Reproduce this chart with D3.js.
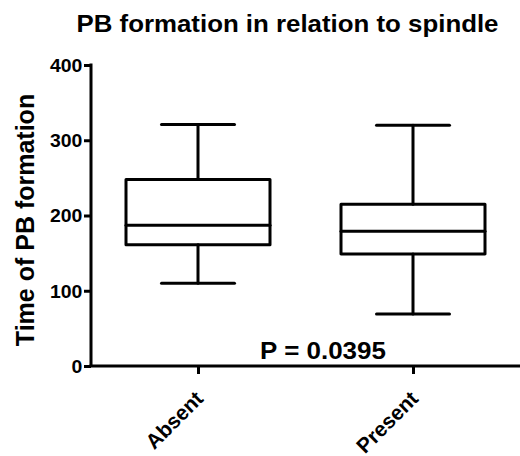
<!DOCTYPE html>
<html><head><meta charset="utf-8">
<script src="https://cdn.jsdelivr.net/npm/d3@7"></script>
<style>body{margin:0;background:#fff}svg{display:block}text{font-family:"Liberation Sans",Arial,sans-serif;font-weight:bold;fill:#000}</style>
</head><body><svg id="c" width="520" height="456"></svg>
<script>
const categories = ["Absent", "Present"];
const whiskerLow = [110, 69];
const q1 = [161, 149];
const median = [187, 179];
const q3 = [248, 215];
const whiskerHigh = [321, 320];
const yTicks = [0, 100, 200, 300, 400];
const titleText = "PB formation in relation to spindle";
const yLabel = "Time of PB formation";
const pText = "P = 0.0395";

const data = categories.map((c,i)=>({c, lo:whiskerLow[i], q1:q1[i], med:median[i], q3:q3[i], hi:whiskerHigh[i]}));
const svg = d3.select("#c");
const y = d3.scaleLinear().domain([0,400]).range([366,65]);
const x = d3.scalePoint().domain(categories).range([198,413]);

const yAxis = svg.append("g").attr("transform","translate(91,0)")
  .call(d3.axisLeft(y).tickValues(yTicks).tickSize(7).tickPadding(1).tickSizeOuter(0));
yAxis.select(".domain").attr("stroke","#000").attr("stroke-width",3).attr("d","M0,"+(y(400)-1.5)+"V"+(y(0)));
yAxis.selectAll(".tick line").attr("stroke","#000").attr("stroke-width",3);
yAxis.selectAll(".tick text").attr("font-size",18).attr("font-family","Liberation Sans, Arial").attr("font-weight","bold").attr("dy","0.36em")
  .attr("transform","scale(1.08,1)");

const xAxis = svg.append("g").attr("transform","translate(0,366)")
  .call(d3.axisBottom(x).tickSize(8).tickSizeOuter(0));
xAxis.select(".domain").attr("stroke","#000").attr("stroke-width",3).attr("d","M89.5,0H520");
xAxis.selectAll(".tick line").attr("stroke","#000").attr("stroke-width",3);
xAxis.selectAll(".tick text").attr("font-size",21).attr("font-family","Liberation Sans, Arial").attr("font-weight","bold")
  .attr("text-anchor","end").attr("y",0).attr("dy",0).attr("transform","translate(6,34) rotate(-45)");

const boxW = 144, capW = 73;
const g = svg.append("g").attr("fill","none").attr("stroke","#000").attr("stroke-width",3).attr("stroke-linecap","round");
data.forEach(d=>{
  const cx = x(d.c);
  g.append("line").attr("x1",cx).attr("x2",cx).attr("y1",y(d.hi)).attr("y2",y(d.q3));
  g.append("line").attr("x1",cx).attr("x2",cx).attr("y1",y(d.q1)).attr("y2",y(d.lo));
  g.append("line").attr("x1",cx-capW/2).attr("x2",cx+capW/2).attr("y1",y(d.hi)).attr("y2",y(d.hi));
  g.append("line").attr("x1",cx-capW/2).attr("x2",cx+capW/2).attr("y1",y(d.lo)).attr("y2",y(d.lo));
  g.append("rect").attr("x",cx-boxW/2).attr("width",boxW).attr("y",y(d.q3)).attr("height",y(d.q1)-y(d.q3)).attr("stroke-linejoin","round");
  g.append("line").attr("x1",cx-boxW/2).attr("x2",cx+boxW/2).attr("y1",y(d.med)).attr("y2",y(d.med));
});

svg.append("text").attr("transform","translate(287.5,32) scale(1.1,1)").attr("text-anchor","middle").style("font-size","23.5px")
  .text(titleText);
svg.append("text").attr("transform","translate(34,220) rotate(-90)").attr("text-anchor","middle").style("font-size","25px")
  .text(yLabel);
svg.append("text").attr("transform","translate(323,359) scale(1.06,1)").attr("text-anchor","middle").style("font-size","24.5px")
  .text(pText);
</script></body></html>
